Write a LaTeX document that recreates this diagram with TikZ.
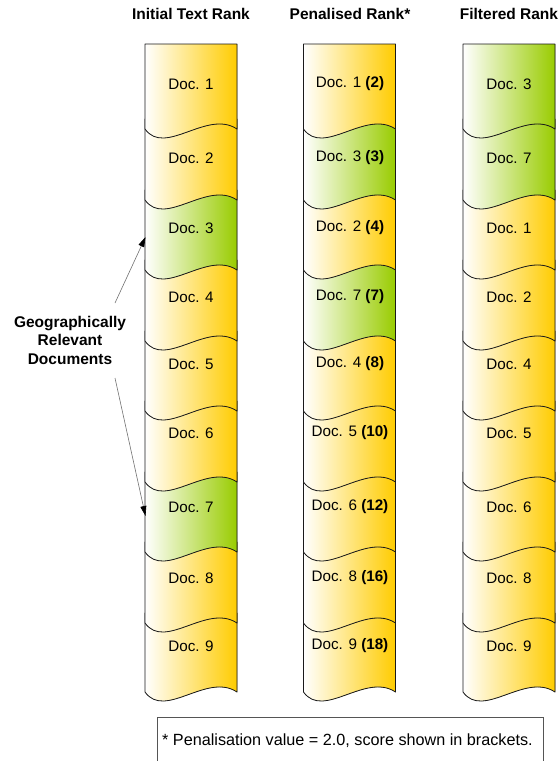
\documentclass[tikz,border=0pt]{standalone}
\usepackage{fontspec}
\setmainfont{Liberation Sans}
\usetikzlibrary{arrows.meta}
\definecolor{docgold}{HTML}{FFCC00}
\definecolor{docgreen}{HTML}{99CC00}
\definecolor{docedge}{HTML}{1A1A1A}
\definecolor{boxedge}{HTML}{555555}
\definecolor{arrowline}{HTML}{707070}
\newcommand\doccolumn[3]{%
  % #1 left x, #2 green flags (9 entries), #3 name prefix
  \foreach \i in {9,8,...,1}{%
    \pgfmathsetmacro\yb{{44,129,200,270,341,411,482,552,623,692}[\i]}%
    \pgfmathsetmacro\yt{\i==1 ? 44 : {44,129,200,270,341,411,482,552,623,692}[\i-1]-10}%
    \pgfmathtruncatemacro\flag{{#2}[\i-1]}%
    \ifnum\flag=1 \def\dcol{docgreen}\else\def\dcol{docgold}\fi
    \filldraw[docshape, left color=white, right color=\dcol]
      (#1,\yt) -- (#1+92,\yt) -- (#1+92,\yb)
      .. controls (#1+62,\yb-20) and (#1+20,\yb+28) .. (#1,\yb) -- cycle;
  }%
}
\begin{document}
\begin{tikzpicture}[x=1pt,y=-1pt,
  docshape/.style={draw=docedge, line width=0.8pt, line join=round},
  doctext/.style={font=\fontsize{15.2}{18}\selectfont, text=black, inner sep=0pt},
  header/.style={font=\bfseries\fontsize{15.5}{18}\selectfont, inner sep=0pt},
  geoarrow/.style={draw=arrowline, line width=0.6pt,
    -{Triangle[length=10pt,width=6pt,color=black]}},
  footbox/.style={draw=boxedge, line width=0.8pt}]
\useasboundingbox (0,0) rectangle (559,761);

% headers
\node[header] (h1) at (191,14) {Initial Text Rank};
\node[header] (h2) at (350,14) {Penalised Rank*};
\node[header] (h3) at (509,14) {Filtered Rank};

% document stacks
\doccolumn{145}{0,0,1,0,0,0,1,0,0}{c1}
\doccolumn{303.5}{0,1,0,1,0,0,0,0,0}{c2}
\doccolumn{463}{1,1,0,0,0,0,0,0,0}{c3}

% document labels
\foreach \t [count=\i from 1] in {Doc. 1,Doc. 2,Doc. 3,Doc. 4,Doc. 5,Doc. 6,Doc. 7,Doc. 8,Doc. 9}{%
  \pgfmathsetmacro\ty{{84,158,228,297,364,433,507,578,646}[\i-1]}
  \node[doctext] (c1d\i) at (191,\ty) {\t};
}
\foreach \t [count=\i from 1] in {Doc. 1 \textbf{(2)},Doc. 3 \textbf{(3)},Doc. 2 \textbf{(4)},Doc. 7 \textbf{(7)},Doc. 4 \textbf{(8)},Doc. 5 \textbf{(10)},Doc. 6 \textbf{(12)},Doc. 8 \textbf{(16)},Doc. 9 \textbf{(18)}}{%
  \pgfmathsetmacro\ty{{84,158,228,297,364,433,507,578,646}[\i-1]}
  \node[doctext] (c2d\i) at (350,\ty) {\t};
}
\foreach \t [count=\i from 1] in {Doc. 3,Doc. 7,Doc. 1,Doc. 2,Doc. 4,Doc. 5,Doc. 6,Doc. 8,Doc. 9}{%
  \pgfmathsetmacro\ty{{84,158,228,297,364,433,507,578,646}[\i-1]}
  \node[doctext] (c3d\i) at (509,\ty) {\t};
}

% geographically relevant label and arrows
\node[header, align=center, font=\bfseries\fontsize{15.5}{18.5}\selectfont] (geo) at (70,340)
  {Geographically\\Relevant\\Documents};
\coordinate (geoA) at (115,303);
\coordinate (geoB) at (115,378);
\coordinate (doc3edge) at (145.5,237);
\coordinate (doc7edge) at (145.5,516);
\draw[geoarrow] (geoA) -- (doc3edge);
\draw[geoarrow] (geoB) -- (doc7edge);

% footnote
\draw[footbox] (157,717) rectangle (543,775);
\node[doctext, anchor=west, font=\fontsize{16.2}{19}\selectfont] (foot) at (162,741) {* Penalisation value = 2.0, score shown in brackets.};
\end{tikzpicture}
\end{document}
